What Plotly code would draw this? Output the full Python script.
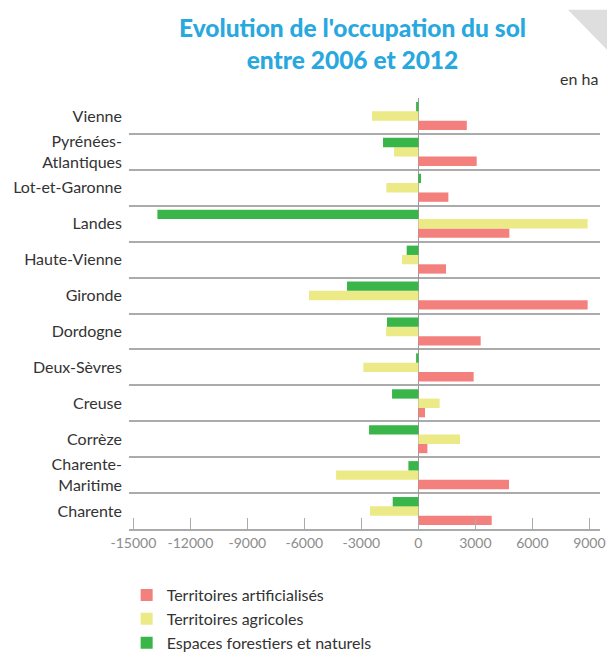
import plotly.graph_objects as go

# Départements, listed top to bottom as displayed
departements = [
    "Vienne", "Pyrénées-<br>Atlantiques", "Lot-et-Garonne", "Landes",
    "Haute-Vienne", "Gironde", "Dordogne", "Deux-Sèvres", "Creuse",
    "Corrèze", "Charente-<br>Maritime", "Charente",
]

# Change in land use 2006-2012, in hectares
artificialises = [2550, 3070, 1580, 4790, 1455, 8910, 3280, 2910, 350, 475, 4770, 3860]
agricoles = [-2440, -1280, -1685, 8910, -860, -5755, -1700, -2895, 1120, 2190, -4330, -2545]
forestiers = [-120, -1860, 140, -13735, -615, -3755, -1650, -120, -1385, -2595, -525, -1350]

x_ticks = [-15000, -12000, -9000, -6000, -3000, 0, 3000, 6000, 9000]

n = len(departements)
ypos = [n - 1 - i for i in range(n)]  # first entry at the top

series = [
    ("Territoires artificialisés", artificialises, "#F4807E"),
    ("Territoires agricoles", agricoles, "#EBEA86"),
    ("Espaces forestiers et naturels", forestiers, "#39B54A"),
]

fig = go.Figure()
for name, vals, color in series:
    fig.add_trace(go.Bar(
        x=vals, y=ypos, name=name, orientation="h",
        marker=dict(color=color, line=dict(width=0)),
    ))

fig.update_layout(
    width=607, height=654,
    paper_bgcolor="white", plot_bgcolor="white",
    margin=dict(l=129, r=7, t=98, b=125, autoexpand=False),
    barmode="group", bargap=0.22, bargroupgap=0,
    font=dict(family="Lato", color="#333333", size=16),
    showlegend=True,
    legend=dict(
        x=-0.005, xanchor="left", y=-0.114, yanchor="top",
        font=dict(family="Lato", size=16, color="#333333"),
        traceorder="normal", bgcolor="rgba(0,0,0,0)",
        itemwidth=30, tracegroupgap=0,
    ),
    xaxis=dict(
        range=[-15230, 9560], tickvals=x_ticks,
        ticktext=[str(v) for v in x_ticks],
        showgrid=False, zeroline=True, zerolinecolor="#9a9a9a", zerolinewidth=1,
        showline=True, linecolor="#ababab", linewidth=1.5,
        ticks="inside", ticklen=11, tickcolor="#ababab", tickwidth=1.2,
        tickfont=dict(family="Lato", size=14, color="#8c8c8c"),
        automargin=False,
    ),
    yaxis=dict(
        range=[-0.5, n - 0.5], tickvals=ypos, ticktext=departements,
        showgrid=False, zeroline=False, showline=False, ticks="",
        ticklabelstandoff=6, automargin=False,
        tickfont=dict(family="Lato", size=16, color="#333333"),
        minor=dict(tick0=0.5, dtick=1, showgrid=True,
                   gridcolor="#ababab", gridwidth=1.5),
    ),
)

# chart title
fig.add_annotation(
    text="Evolution de l'occupation du sol<br>entre 2006 et 2012",
    xref="paper", yref="paper", x=0.4735, y=1.203,
    xanchor="center", yanchor="top", showarrow=False, align="center",
    font=dict(family="Lato", size=24.5, color="#29A8E0", weight=900),
)

# unit note
fig.add_annotation(
    text="en ha", xref="paper", yref="paper", x=1.0, y=1.0,
    xanchor="right", yanchor="bottom", yshift=8, showarrow=False,
    font=dict(family="Lato", size=16, color="#333333"),
)

# folded-corner decoration in the top right
fig.add_shape(
    type="path", xref="paper", yref="paper",
    path="M 0.932 1.205 L 1.015 1.205 L 1.015 1.112 Z",
    fillcolor="#dedede", line=dict(width=0), layer="below",
)

fig.write_html("out.html")
